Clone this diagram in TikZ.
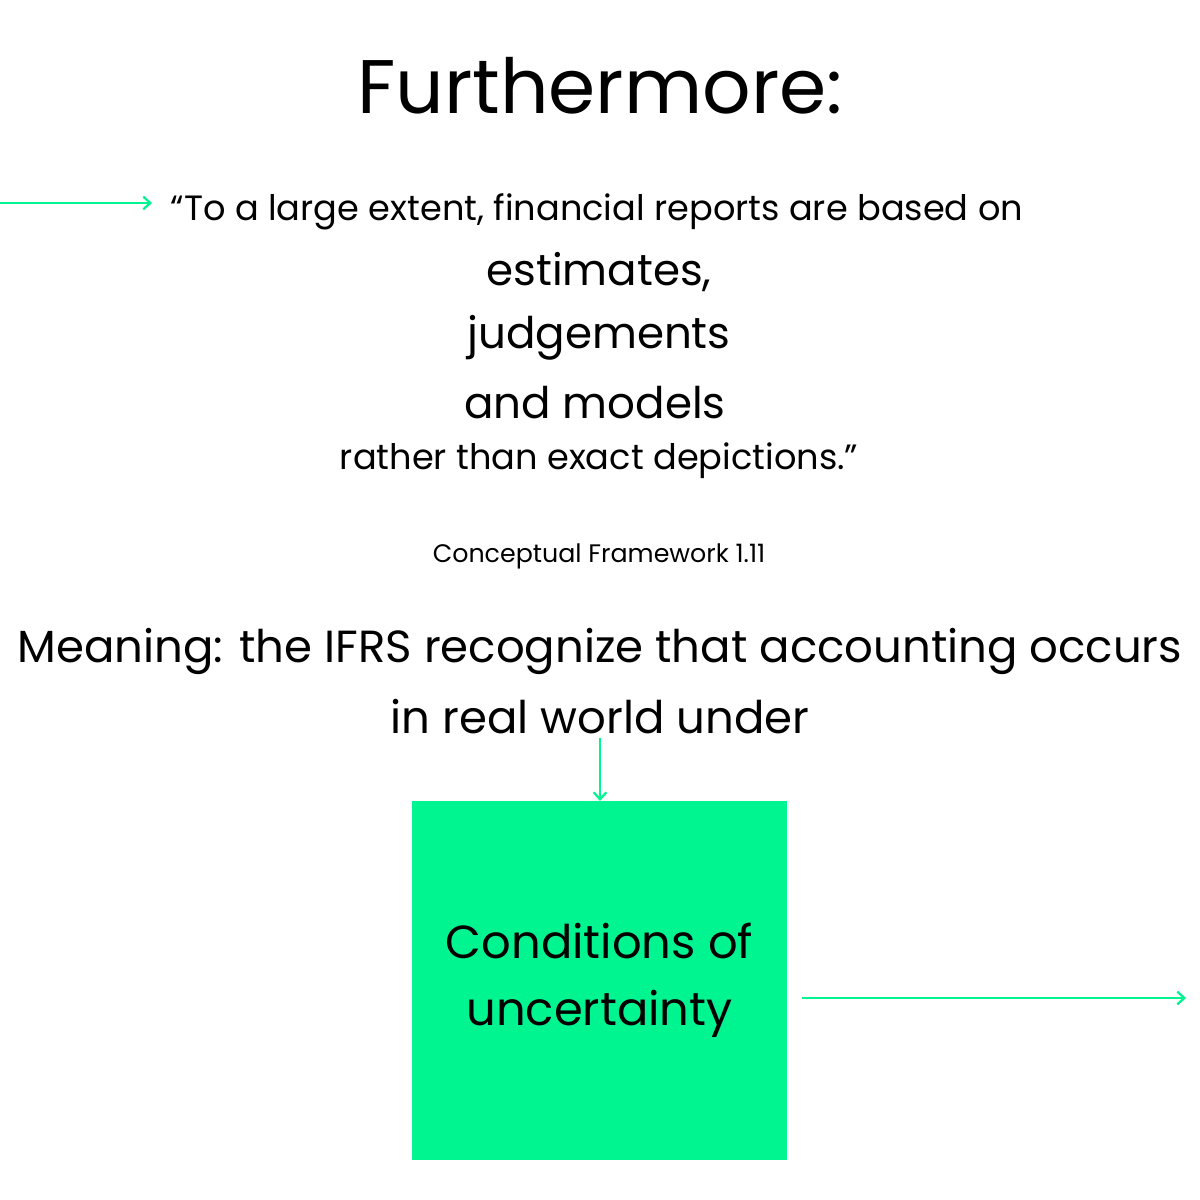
\documentclass[tikz,border=0pt]{standalone}
\usepackage{fontspec}
\usetikzlibrary{arrows.meta}
\setmainfont{Poppins}
\definecolor{grn}{HTML}{00F490}
\begin{document}
\begin{tikzpicture}[x=0.025cm,y=-0.025cm,
  t/.style={inner sep=0pt,anchor=center,text=black},
  arr/.style={draw=grn,line width=1.6pt,-{Straight Barb[length=5pt,width=9pt]}}]
\useasboundingbox (0,0) rectangle (1200,1200);
\node[t,font=\fontsize{54}{60}\selectfont] (title) at (600,86) {Furthermore:};
\node[t,font=\fontsize{25}{30}\selectfont] (q1) at (597,212) {“To a large extent, financial reports are based on};
\node[t,font=\fontsize{31}{36}\selectfont] (q2) at (599,272) {estimates,};
\node[t,font=\fontsize{31}{36}\selectfont] (q3) at (599,338) {judgements};
\node[t,font=\fontsize{31}{36}\selectfont] (q4) at (595,403) {and models};
\node[t,font=\fontsize{25}{30}\selectfont] (q5) at (599,461) {rather than exact depictions.”};
\node[t,font=\fontsize{18}{22}\selectfont] (cf) at (599,556) {Conceptual Framework 1.11};
\node[t,font=\fontsize{32}{38}\selectfont] (m1) at (600,651) {Meaning: the IFRS recognize that accounting occurs};
\node[t,font=\fontsize{32}{38}\selectfont] (m2) at (600,717) {in real world under};
\fill[grn] (412,801) rectangle (787,1160);
\node[t,font=\fontsize{33}{48}\selectfont,align=center] (box) at (599.5,980) {Conditions of\\uncertainty};
\coordinate (a1) at (0,203); \coordinate (a2) at (152,203);
\coordinate (b1) at (600,738); \coordinate (b2) at (600,801);
\coordinate (c1) at (802,998); \coordinate (c2) at (1186,998);
\draw[arr] (a1) -- (a2);
\draw[arr] (b1) -- (b2);
\draw[arr] (c1) -- (c2);
\end{tikzpicture}
\end{document}
